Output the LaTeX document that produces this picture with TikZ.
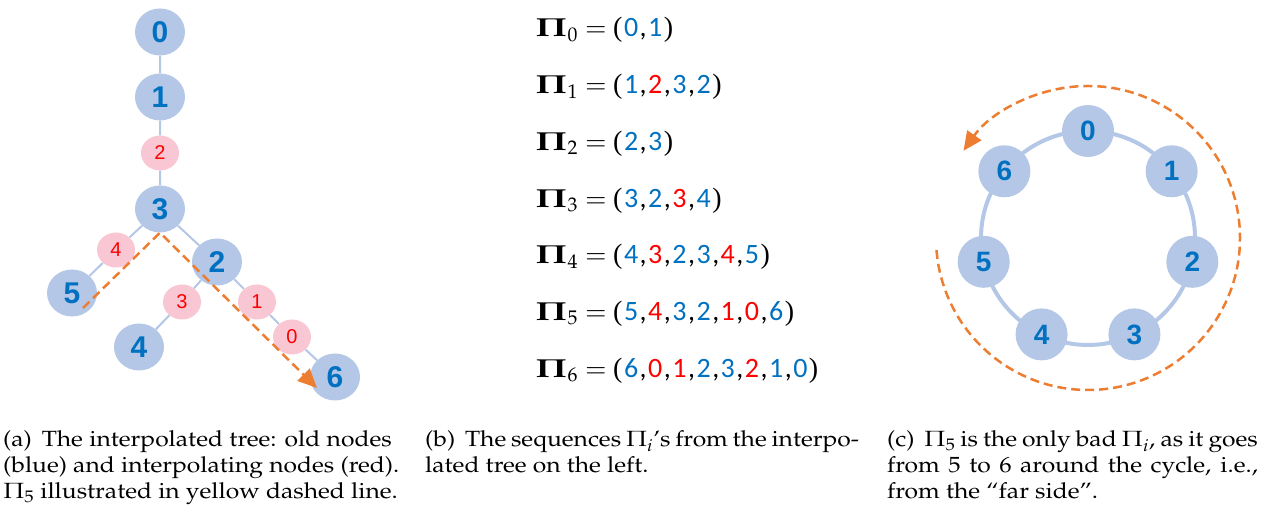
\documentclass[tikz,border=0pt]{standalone}
\usepackage{mathpazo}
\usepackage{fontspec}
\usetikzlibrary{arrows.meta,shapes.geometric,calc}
\newfontfamily\nodefont{Liberation Sans}
\newfontfamily\seqfont{Carlito}
\newfontfamily\parfont{Liberation Serif}
\definecolor{oldfill}{HTML}{B4C7E7}
\definecolor{oldtext}{HTML}{0070C0}
\definecolor{newfill}{HTML}{F9C6D4}
\definecolor{newtext}{HTML}{FF0000}
\definecolor{pathorange}{HTML}{ED7D31}
\newcommand{\ob}[1]{\kern1.5pt\textcolor{oldtext}{#1}\kern1.5pt}
\newcommand{\nr}[1]{\kern1.5pt\textcolor{newtext}{#1}\kern1.5pt}
\newcommand{\pibold}{\scalebox{1.45}[1]{$\mathbf{\Pi}$}}
\newcommand{\capfont}{\fontsize{22}{26}\usefont{OT1}{ppl}{m}{n}}
\newcommand{\capbox}[1]{\scalebox{1.12}[1]{\parbox[t]{420pt}{\capfont #1}}}
\newcommand{\fullline}[2]{\makebox[#1][s]{#2}}

\begin{document}
\begin{tikzpicture}[x=1pt,y=1pt,
    oldnode/.style={ellipse,fill=oldfill,text=oldtext,inner sep=0,
      minimum width=50pt,minimum height=47pt,
      font=\nodefont\bfseries\fontsize{30}{30}\selectfont},
    newnode/.style={ellipse,fill=newfill,text=newtext,inner sep=0,
      minimum width=38pt,minimum height=35pt,
      font=\nodefont\fontsize{20}{20}\selectfont},
    ringnode/.style={circle,fill=oldfill,text=oldtext,inner sep=0,
      minimum size=52pt,font=\nodefont\bfseries\fontsize{28}{28}\selectfont},
    treeedge/.style={draw=oldfill,line width=2pt},
    ringedge/.style={draw=oldfill,line width=4pt},
    pathdash/.style={draw=pathorange,line width=2.5pt,dash pattern=on 9pt off 5pt},
    pathtip/.style={-{Triangle[length=19pt,width=17pt,fill=pathorange,sep=0pt]}},
    seqline/.style={anchor=base west,inner sep=0}]
    \useasboundingbox (0,0) rectangle (1269,510);

    % (a) interpolated tree
    \node[oldnode] (t0) at (160,478) {0};
    \node[oldnode] (t1) at (160,413) {1};
    \node[newnode] (s2) at (160,357) {2};
    \node[oldnode] (t3) at (160,301) {3};
    \node[newnode] (s4) at (116,260) {4};
    \node[oldnode] (t2) at (217,248) {2};
    \node[oldnode] (t5) at (72,217) {5};
    \node[newnode] (s3) at (182,208) {3};
    \node[newnode] (s1) at (257,208) {1};
    \node[oldnode] (t4) at (139,163) {4};
    \node[newnode] (s0) at (292,173) {0};
    \node[oldnode] (t6) at (335,133) {6};
    \draw[treeedge] (t0) -- (t1) -- (s2) -- (t3) -- (s4) -- (t5);
    \draw[treeedge] (t3) -- (t2) -- (s1) -- (s0) -- (t6);
    \draw[treeedge] (t2) -- (s3) -- (t4);
    \coordinate (p5) at (83,202);
    \coordinate (p6) at (317,122);
    \draw[pathdash,pathtip] (p5) -- (t3.south) -- (p6);

    % (b) the sequences
    \foreach \k/\seq in {0/{\ob{0},\ob{1}},
        1/{\ob{1},\nr{2},\ob{3},\ob{2}},
        2/{\ob{2},\ob{3}},
        3/{\ob{3},\ob{2},\nr{3},\ob{4}},
        4/{\ob{4},\nr{3},\ob{2},\ob{3},\nr{4},\ob{5}},
        5/{\ob{5},\nr{4},\ob{3},\ob{2},\nr{1},\nr{0},\ob{6}},
        6/{\ob{6},\nr{0},\nr{1},\ob{2},\ob{3},\nr{2},\ob{1},\ob{0}}} {
      \node[seqline] (pi\k) at (535,{473-56.67*\k})
        {\fontsize{26}{30}\selectfont$\pibold_{\k} =$};
      \node[seqline] (seq\k) at (613,{473-56.67*\k})
        {\seqfont\fontsize{28}{30}\selectfont{\parfont(}\seq{\parfont)}};
    }

    % (c) the cycle
    \coordinate (ringc) at (1088,272);
    \draw[ringedge] (ringc) circle[radius=107];
    \foreach \k in {0,...,6}
      \node[ringnode] (c\k) at ($(ringc)+({90-\k*360/7}:107)$) {\k};
    \draw[pathdash,pathtip] ([shift={(184.5:152)}]ringc)
      arc[start angle=184.5,end angle=505,radius=152];

    % captions
    \node[anchor=base west,inner sep=0] (capa) at (3,63)
      {\capbox{\fullline{347pt}{(a)\hspace{0.4em}The interpolated tree: old nodes}\\
       (blue) and interpolating nodes (red).\\
       $\Pi_5$ illustrated in yellow dashed line.}};
    \node[anchor=base west,inner sep=0] (capb) at (425,63)
      {\capbox{\fullline{387pt}{(b)\hspace{0.4em}The sequences $\Pi_i$'s from the interpo-}\\
       lated tree on the left.}};
    \node[anchor=base west,inner sep=0] (capc) at (887,63)
      {\capbox{\fullline{331pt}{(c)\hspace{0.4em}$\Pi_5$ is the only bad $\Pi_i$, as it goes}\\
       \fullline{331pt}{from 5 to 6 around the cycle, i.e.,}\\
       from the ``far side''.}};
\end{tikzpicture}
\end{document}
